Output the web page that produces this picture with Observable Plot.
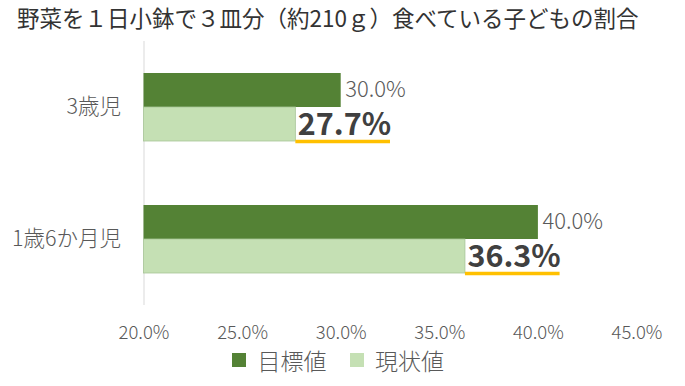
<!DOCTYPE html>
<html>
<head>
<meta charset="utf-8">
<script src="https://cdn.jsdelivr.net/npm/d3@7"></script>
<script src="https://cdn.jsdelivr.net/npm/@observablehq/plot@0.6"></script>
<style>
  html, body { margin: 0; padding: 0; background: #fff; }
  body { width: 685px; height: 386px; overflow: hidden; font-family: "Noto Sans CJK JP", "Noto Sans", sans-serif; }
  #title { height: 36px; line-height: 34px; font-size: 22.5px; color: #333; padding-left: 17px; white-space: nowrap; }
  #legend { height: 40px; display: flex; justify-content: center; align-items: center; padding-left: 14px; }
</style>
</head>
<body>
<div id="title">野菜を１日小鉢で３皿分（約210ｇ）食べている子どもの割合</div>
<div id="chart"></div>
<div id="legend"></div>
<script>
const categories = ["3歳児", "1歳6か月児"];
const seriesNames = ["目標値", "現状値"];
const targetValues = [30.0, 40.0];
const currentValues = [27.7, 36.3];
const xDomain = [20, 45];
const xTicks = [20, 25, 30, 35, 40, 45];
const colors = ["#548235", "#C5E0B4"];

const data = [];
categories.forEach((c, i) => {
  data.push({cat: c, series: seriesNames[0], value: targetValues[i]});
  data.push({cat: c, series: seriesNames[1], value: currentValues[i]});
});
const targets = data.filter(d => d.series === seriesNames[0]);
const currents = data.filter(d => d.series === seriesNames[1]);

const chart = Plot.plot({
  width: 685,
  height: 310,
  marginTop: 4,
  marginBottom: 41,
  marginLeft: 143.5,
  marginRight: 48.5,
  style: {fontFamily: '"Noto Sans CJK JP", "Noto Sans", sans-serif', background: "#fff"},
  x: {domain: xDomain, axis: null},
  fy: {domain: categories, padding: 0, axis: null},
  y: {domain: seriesNames, paddingInner: 0, paddingOuter: 0.92, axis: null},
  color: {domain: seriesNames, range: colors},
  marks: [
    Plot.ruleX([xDomain[0]], {stroke: "#d9d9d9", strokeWidth: 1}),
    Plot.barX(targets, {fy: "cat", y: "series", x1: xDomain[0], x2: "value", fill: colors[0]}),
    Plot.barX(currents, {fy: "cat", y: "series", x1: xDomain[0], x2: "value", fill: colors[1], stroke: "#a7c597", strokeWidth: 0.8}),
    Plot.text(targets, {fy: "cat", y: "series", x: "value", text: d => d.value.toFixed(1) + "%", textAnchor: "start", dx: 4, dy: -1, fontSize: 22, fontWeight: 300, fill: "#595959"}),
    Plot.text(currents, {fy: "cat", y: "series", x: "value", text: d => d.value.toFixed(1) + "%", textAnchor: "start", dx: 2, dy: 1, fontSize: 30.5, fontWeight: 700, fill: "#404040"}),
    Plot.ruleY(currents, {fy: "cat", y: "series", x1: "value", x2: d => d.value + 4.8, dy: 17, stroke: "#FFC000", strokeWidth: 3.5}),
    Plot.axisFy({anchor: "left", tickSize: 0, tickPadding: 23, fontSize: 21.5, fontWeight: 300, fill: "#595959", label: null}),
    Plot.axisX({ticks: xTicks, tickFormat: d => d.toFixed(1) + "%", tickSize: 0, tickPadding: 20, fontSize: 18.5, fontWeight: 300, fill: "#595959", label: null})
  ]
});
document.getElementById("chart").appendChild(chart);

const legend = Plot.legend({
  color: {domain: seriesNames, range: colors},
  swatchSize: 14,
  style: {fontSize: "23px", color: "#595959", fontFamily: '"Noto Sans CJK JP", "Noto Sans", sans-serif', fontWeight: 300}
});
document.getElementById("legend").appendChild(legend);
</script>
</body>
</html>
